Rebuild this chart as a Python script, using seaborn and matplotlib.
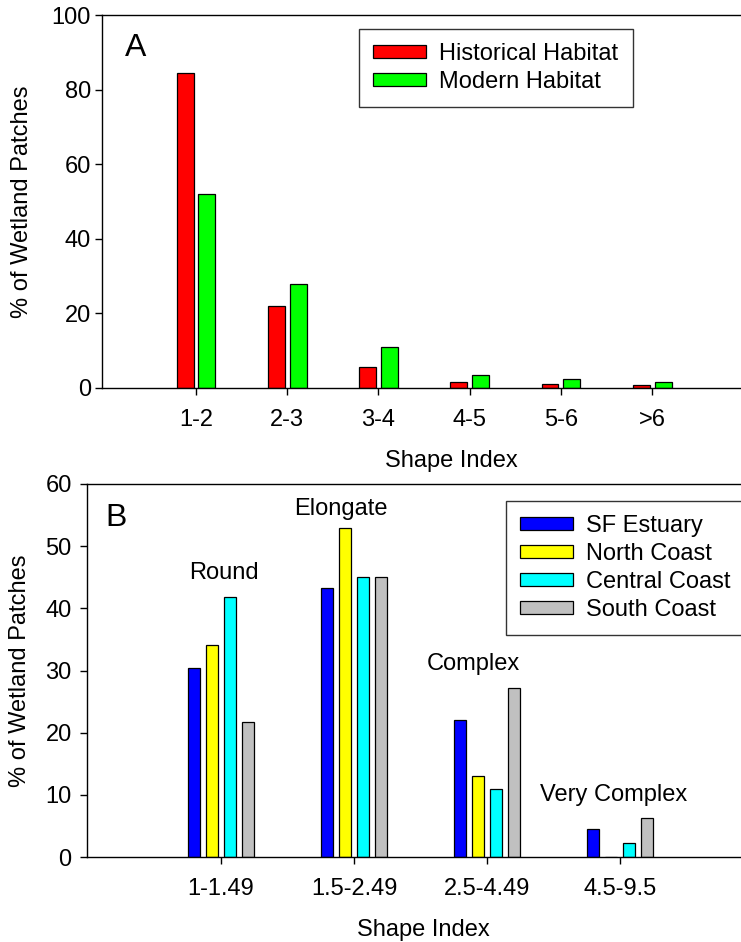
import matplotlib
matplotlib.use("Agg")
import matplotlib.pyplot as plt
import seaborn as sns
import pandas as pd

# Panel A
a_cats = ["1-2", "2-3", "3-4", "4-5", "5-6", ">6"]
a_hist = [84.5, 22, 5.5, 1.5, 1.0, 0.7]
a_mod = [52, 28, 11, 3.5, 2.3, 1.5]

# Panel B
b_cats = ["1-1.49", "1.5-2.49", "2.5-4.49", "4.5-9.5"]
b_sf = [30.4, 43.2, 22, 4.5]
b_north = [34.1, 53, 13, 0]
b_central = [41.9, 45, 11, 2.3]
b_south = [21.7, 45, 27.2, 6.3]
b_shape_labels = ["Round", "Elongate", "Complex", "Very Complex"]
b_label_x = [0.02, 0.9, 1.9, 2.95]
b_label_y = [45.7, 56.0, 31.0, 10.0]

FS = 17
W, H = 741, 942

sns.set_style("ticks")
plt.rcParams["font.family"] = ["Liberation Sans", "DejaVu Sans"]
plt.rcParams.update({"font.size": FS, "text.color": "black", "axes.labelcolor": "black",
                     "xtick.color": "black", "ytick.color": "black", "axes.edgecolor": "black",
                     "axes.linewidth": 1.0})

fig = plt.figure(figsize=(W / 100, H / 100), dpi=100)
ax1 = fig.add_axes([102 / W, 1 - 388 / H, (800 - 102) / W, (388 - 15) / H])
ax2 = fig.add_axes([87 / W, 1 - 857 / H, (760 - 87) / W, (857 - 484) / H])

dfa = pd.DataFrame({"cat": a_cats * 2, "val": a_hist + a_mod,
                    "series": ["Historical Habitat"] * 6 + ["Modern Habitat"] * 6})
sns.barplot(data=dfa, x="cat", y="val", hue="series", ax=ax1, width=0.48, gap=0.225,
            palette=["#ff0000", "#00ff00"], saturation=1, edgecolor="black", linewidth=0.9)
ax1.set_xlim(-1.03, 6.62)
ax1.set_ylim(0, 100)
ax1.set_yticks(range(0, 101, 20))

dfb = pd.DataFrame({"cat": b_cats * 4, "val": b_sf + b_north + b_central + b_south,
                    "series": ["SF Estuary"] * 4 + ["North Coast"] * 4 +
                              ["Central Coast"] * 4 + ["South Coast"] * 4})
sns.barplot(data=dfb, x="cat", y="val", hue="series", ax=ax2, width=0.54, gap=0.33,
            palette=["#0000ff", "#ffff00", "#00ffff", "#c0c0c0"], saturation=1,
            edgecolor="black", linewidth=0.9)
ax2.set_xlim(-1.007, 4.05)
ax2.set_ylim(0, 60)
ax2.set_yticks(range(0, 61, 10))
for x, y, lab in zip(b_label_x, b_label_y, b_shape_labels):
    ax2.text(x, y, lab, ha="center", va="center", fontsize=FS)

fig.text(136 / W, 1 - 48 / H, "A", fontsize=23, ha="center", va="center")
fig.text(116 / W, 1 - 518 / H, "B", fontsize=23, ha="center", va="center")

leg_anchor = [(359, 29), (506, 501)]
ylab_x = [(33 - 102) / 698, (31 - 87) / 673]
ypads = [3, 6]
for ax, (lx, ly), yl, yp in zip((ax1, ax2), leg_anchor, ylab_x, ypads):
    ax.set_xlabel("Shape Index", fontsize=FS, labelpad=14)
    ax.set_ylabel("% of Wetland Patches", fontsize=FS)
    ax.yaxis.set_label_coords(yl, 0.5)
    ax.tick_params(direction="out", labelsize=FS, length=5, width=1)
    ax.tick_params(axis="x", pad=10)
    ax.tick_params(axis="y", pad=yp)
    ax.spines["top"].set_visible(True)
    ax.spines["right"].set_visible(False)
    ax.legend(loc="upper left", bbox_to_anchor=(lx / W, 1 - ly / H),
              bbox_transform=fig.transFigure, frameon=True, fancybox=False,
              edgecolor="black", fontsize=FS, handlelength=2.25, handleheight=0.45,
              labelspacing=0.25, borderpad=0.6, handletextpad=0.55, borderaxespad=0)
    ax.get_legend().get_frame().set_linewidth(1.0)

fig.savefig("out.png", dpi=100)
